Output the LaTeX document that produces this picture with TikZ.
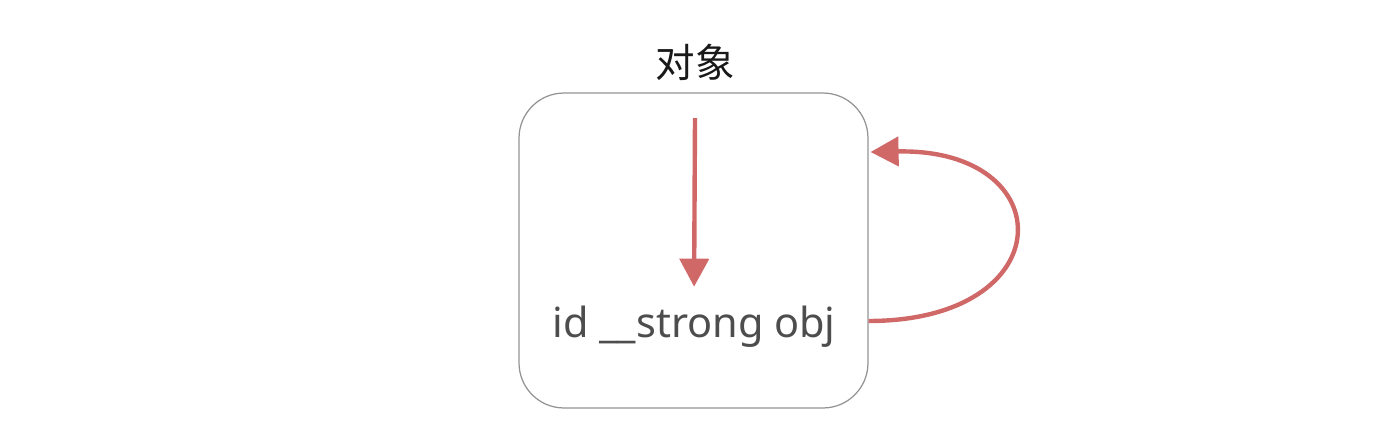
\documentclass[tikz,border=0pt]{standalone}
\usepackage{fontspec}
\setmainfont{Noto Sans}
\newfontfamily\cjk{Noto Sans CJK SC}
\usetikzlibrary{arrows.meta}

\begin{document}
\begin{tikzpicture}[x=0.02cm, y=-0.02cm,
  objbox/.style={draw=gray!85, line width=0.7pt, rounded corners=0.9cm,
    minimum width=6.98cm, minimum height=6.3cm, inner sep=0pt},
  reflink/.style={draw=linkred, line width=2.5pt,
    -{Triangle[length=0.56cm, width=0.58cm]}}]

%─────────────
% Controls
%─────────────
\definecolor{linkred}{RGB}{208,104,104}  % arrow colour
\definecolor{textgray}{RGB}{77,77,77}    % text colour

\useasboundingbox (0,0) rectangle (1396,440);

%─────────────
% Object box and its title
%─────────────
\node[objbox] (obj) at (693.5,250.5) {};
\node[font=\cjk\fontsize{22.5}{24}\selectfont, text=black!90] (title) at (695,62) {对象};

%─────────────
% Strong pointer inside the object
%─────────────
\node[font=\fontsize{23.6}{28}\selectfont, text=textgray, anchor=base,
  text height=0.7cm, text depth=0.2cm, inner sep=0pt] (ref) at (694,337) {id \_\_strong obj};
\coordinate (reftop) at (695,118);
\draw[reflink, shorten >=0.3cm] (reftop) -- (ref.north);

%─────────────
% Loop back onto the object (retain cycle)
%─────────────
\coordinate (loopout) at ([yshift=-1.41cm]obj.east);
\coordinate (loopin)  at ([xshift=0.04cm, yshift=1.97cm]obj.east);
\draw[reflink] (loopout) .. controls ++(194,0) and ++(192,-4) .. (loopin);

\end{tikzpicture}
\end{document}
